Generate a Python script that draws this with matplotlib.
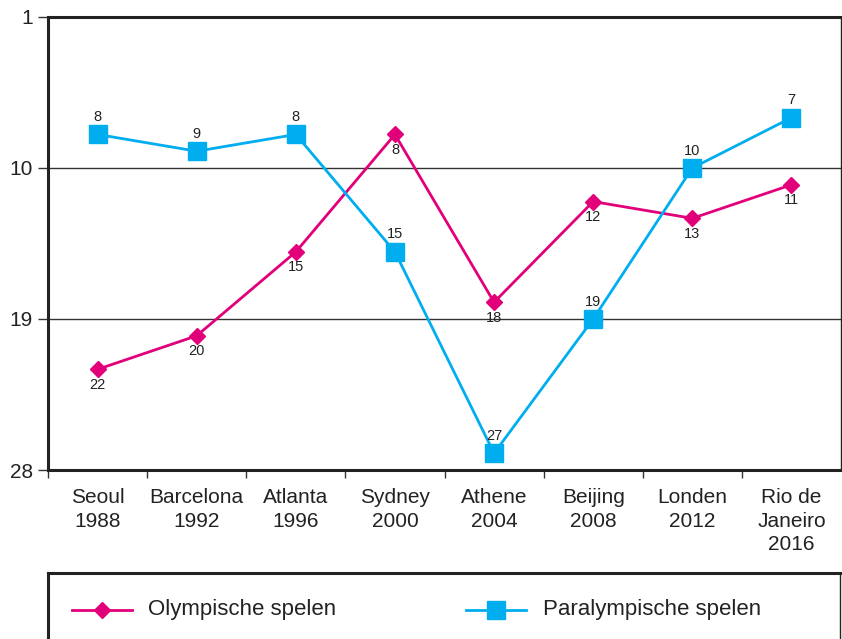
import matplotlib
matplotlib.use("Agg")
import matplotlib.pyplot as plt
from matplotlib.lines import Line2D

plt.rcParams['font.family'] = ['Liberation Sans', 'DejaVu Sans']

categories = ["Seoul\n1988", "Barcelona\n1992", "Atlanta\n1996", "Sydney\n2000",
              "Athene\n2004", "Beijing\n2008", "Londen\n2012", "Rio de\nJaneiro\n2016"]
olympisch = [22, 20, 15, 8, 18, 12, 13, 11]
paralympisch = [8, 9, 8, 15, 27, 19, 10, 7]
yticks = [1, 10, 19, 28]
series_names = ["Olympische spelen", "Paralympische spelen"]

MAG = "#e2007a"
CYA = "#00aeef"
TXT = "#222222"
W, H = 842, 639
fig = plt.figure(figsize=(W / 100, H / 100), dpi=100)
ax = fig.add_axes([48 / W, 1 - 470 / H, (841 - 48) / W, (470 - 17) / H])

x = list(range(len(categories)))
ax.plot(x, olympisch, color=MAG, lw=2, marker="D", ms=8, zorder=3)
ax.plot(x, paralympisch, color=CYA, lw=2, marker="s", ms=13, zorder=3)

for xi, v in zip(x, olympisch):
    ax.annotate(str(v), (xi, v), xytext=(0, -6), textcoords="offset points",
                ha="center", va="top", fontsize=10.5, color=TXT)
for xi, v in zip(x, paralympisch):
    ax.annotate(str(v), (xi, v), xytext=(0, 7.5), textcoords="offset points",
                ha="center", va="bottom", fontsize=10.5, color=TXT)

ax.set_xlim(-0.5, len(categories) - 0.5)
ax.set_ylim(28, 1)
ax.set_yticks(yticks)
ax.set_yticklabels([str(t) for t in yticks], fontsize=15, color=TXT)
ax.set_xticks(x)
ax.set_xticklabels(categories, fontsize=15, linespacing=1.3, color=TXT)
ax.set_xticks([i - 0.5 for i in range(len(categories))], minor=True)
ax.tick_params(axis="x", which="major", length=0, pad=13)
ax.tick_params(axis="x", which="minor", length=6, width=1, color="#333333", direction="out")
ax.tick_params(axis="y", length=7, width=1, color="#333333", pad=4)

for yv in yticks[1:3]:
    ax.axhline(yv, color="#333333", lw=1, zorder=1)

ax.spines["left"].set_linewidth(2.2)
ax.spines["top"].set_linewidth(2.2)
ax.spines["bottom"].set_linewidth(2.2)
ax.spines["right"].set_linewidth(1)
for s in ax.spines.values():
    s.set_color(TXT)

# legend box
def fx(px):
    return px / W

def fy(py):
    return 1 - py / H

fig.add_artist(Line2D([fx(48), fx(842)], [fy(573), fy(573)], color=TXT, lw=2.2))
fig.add_artist(Line2D([fx(48), fx(48)], [fy(573), fy(645)], color=TXT, lw=2.2))
fig.add_artist(Line2D([fx(840), fx(840)], [fy(573), fy(645)], color=TXT, lw=1))

ly = fy(610)
fig.add_artist(Line2D([fx(72), fx(132)], [ly, ly], color=MAG, lw=2))
fig.add_artist(Line2D([fx(102)], [ly], color=MAG, marker="D", ms=8))
fig.text(fx(148), ly, series_names[0], fontsize=16, va="center", color=TXT)
fig.add_artist(Line2D([fx(466), fx(526)], [ly, ly], color=CYA, lw=2))
fig.add_artist(Line2D([fx(496)], [ly], color=CYA, marker="s", ms=13))
fig.text(fx(543), ly, series_names[1], fontsize=16, va="center", color=TXT)

fig.savefig("out.png", dpi=100)
